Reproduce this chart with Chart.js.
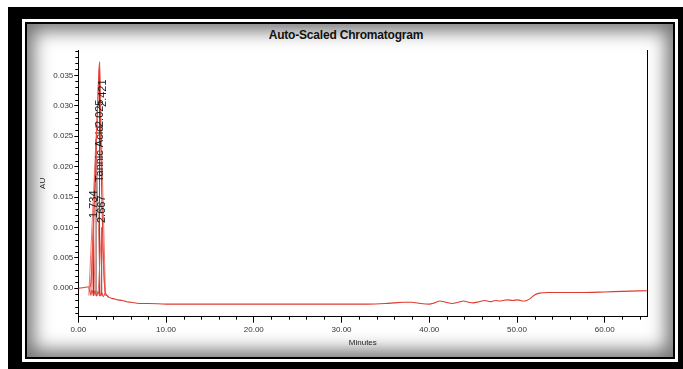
<!DOCTYPE html>
<html>
<head>
<meta charset="utf-8">
<script src="https://cdn.jsdelivr.net/npm/chart.js@4/dist/chart.umd.min.js"></script>
<style>
  html, body { margin: 0; padding: 0; background: #fff; }
  body { width: 683px; height: 369px; position: relative; overflow: hidden; font-family: 'Liberation Sans', Arial, sans-serif; }
  .frame { position: absolute; left: 8px; top: 7px; width: 675px; height: 362px; background: #000; }
  .panel {
    position: absolute; left: 25px; top: 22px; width: 646px; height: 333px;
    background: #fff; border: 2px solid #000; outline: 3px solid #fff;
    box-shadow: inset 0 0 18px 7px rgba(0,0,0,0.55);
  }
  .title { position: absolute; left: 0; width: 692px; top: 28px; text-align: center; font-weight: bold; font-size: 12px; color: #111; letter-spacing: -0.2px; }
  #chart { position: absolute; left: 0; top: 0; }
</style>
</head>
<body>
<div class="frame"></div>
<div class="panel"></div>
<div class="title">Auto-Scaled Chromatogram</div>
<canvas id="chart" width="683" height="369"></canvas>
<script>
// --- DATA ---
const traceTime = [0, 0.5, 1.0, 1.3, 1.45, 1.6, 1.734, 1.88, 2.025, 2.2, 2.421, 2.55, 2.667, 2.8, 2.95, 3.1, 3.3,
    3.5, 4.0, 4.5, 5.0, 5.5, 6.0, 7.0, 8.0, 10, 15, 20, 25, 30, 33, 35, 36, 37, 38, 39, 40, 40.6, 41.2, 41.9, 42.6,
    43.3, 43.9, 44.5, 45.0, 45.7, 46.3, 47.0, 47.6, 48.0, 48.4, 48.9, 49.5, 50.1, 50.7, 51.1, 51.5, 52.0, 52.6, 53.5, 55, 57, 60, 62, 64.85];
const traceAU = [0.0000, 0.0001, 0.0002, 0.0002, 0.0010, 0.0055, 0.0108, 0.0165, 0.0230, 0.0300, 0.0372, 0.0250, 0.0160, 0.0080, 0.0015, -0.0008, -0.0012,
    -0.0015, -0.0017, -0.0019, -0.0020, -0.0022, -0.0023, -0.0025, -0.0025, -0.0026, -0.0026, -0.0026, -0.0026, -0.0026, -0.0026, -0.0025, -0.0024, -0.0023, -0.0023, -0.0025, -0.0026, -0.0024, -0.0021, -0.0023, -0.0025,
    -0.0023, -0.0021, -0.0023, -0.0024, -0.0022, -0.0020, -0.0022, -0.0020, -0.0021, -0.0020, -0.0019, -0.0020, -0.0019, -0.0021, -0.0020, -0.0017, -0.0011, -0.0008, -0.0007, -0.0007, -0.0007, -0.0006, -0.0005, -0.0004];

// integration baseline zigzag under the peak cluster
const baseTime = [1.20, 1.40, 1.55, 1.75, 1.90, 2.10, 2.25, 2.50, 2.65, 2.85, 3.05, 3.40];
const baseAU = [0.0001, -0.0011, -0.0003, -0.0012, -0.0004, -0.0013, -0.0005, -0.0013, -0.0006, -0.0014, -0.0008, -0.0015];

// peaks: retention time, apex height, start/end of each resolved peak
const peakTimes = [1.734, 2.025, 2.421, 2.667];
const peakHeights = [0.0108, 0.0245, 0.0372, 0.0100];
const peakStart = [1.40, 1.55, 1.20, 2.25];
const peakEnd = [1.90, 2.50, 3.10, 3.05];
const peakFoot = -0.0012;

const xMajorTicks = [0, 10, 20, 30, 40, 50, 60];
const xMinorTicks = [2, 4, 6, 8, 12, 14, 16, 18, 22, 24, 26, 28, 32, 34, 36, 38, 42, 44, 46, 48, 52, 54, 56, 58, 62, 64];
const yMajorTicks = [0, 0.005, 0.010, 0.015, 0.020, 0.025, 0.030, 0.035];
const yMinorTicks = [-0.004, -0.003, -0.002, -0.001, 0.001, 0.002, 0.003, 0.004, 0.006, 0.007, 0.008, 0.009, 0.011, 0.012, 0.013, 0.014,
    0.016, 0.017, 0.018, 0.019, 0.021, 0.022, 0.023, 0.024, 0.026, 0.027, 0.028, 0.029, 0.031, 0.032, 0.033, 0.034, 0.036, 0.037, 0.038, 0.039];

// ---------- build datasets ----------
const tracePts = traceTime.map((t, i) => ({ x: t, y: traceAU[i] }));
const basePts = baseTime.map((t, i) => ({ x: t, y: baseAU[i] }));
const fanPts = [];
const dropPts = [];
peakTimes.forEach((t, i) => {
    fanPts.push({ x: peakStart[i], y: peakFoot }, { x: t, y: peakHeights[i] }, { x: peakEnd[i], y: peakFoot }, { x: t, y: null });
    dropPts.push({ x: t, y: peakFoot }, { x: t, y: peakHeights[i] }, { x: t, y: null });
});

// label spots (rotated text, start at bottom)
const peakLabelSpots = [
    { text: '1.734', t: 1.734, v: 0.01155 },
    { text: '2.667', t: 2.667, v: 0.01073 },
    { text: 'Tannic Acid', t: 2.50, v: 0.01747 },
    { text: '2.025', t: 2.50, v: 0.0265 },
    { text: '2.421', t: 2.85, v: 0.0298 }
];

const chromDecor = {
    id: 'chromDecor',
    afterDraw(chart) {
        const { ctx, chartArea: a, scales: { x, y } } = chart;
        ctx.save();
        ctx.strokeStyle = '#000';
        ctx.lineWidth = 1;
        ctx.beginPath();
        ctx.moveTo(Math.round(a.right) + 0.5, a.top);
        ctx.lineTo(Math.round(a.right) + 0.5, a.bottom);
        yMinorTicks.forEach(v => {
            const py = Math.round(y.getPixelForValue(v)) + 0.5;
            ctx.moveTo(a.left - 3, py);
            ctx.lineTo(a.left, py);
        });
        xMinorTicks.forEach(v => {
            const px = Math.round(x.getPixelForValue(v)) + 0.5;
            ctx.moveTo(px, a.bottom);
            ctx.lineTo(px, a.bottom + 3);
        });
        ctx.stroke();

        ctx.fillStyle = '#1a1a1a';
        ctx.font = "11px 'Liberation Sans', Arial, sans-serif";
        ctx.textBaseline = 'middle';
        ctx.textAlign = 'left';
        peakLabelSpots.forEach(p => {
            ctx.save();
            ctx.translate(x.getPixelForValue(p.t), y.getPixelForValue(p.v));
            ctx.rotate(-Math.PI / 2);
            ctx.fillText(p.text, 0, 0);
            ctx.restore();
        });
        ctx.restore();
    }
};

Chart.defaults.font.family = "'Liberation Sans', Arial, sans-serif";
Chart.defaults.color = '#333';

new Chart(document.getElementById('chart'), {
    type: 'line',
    data: {
        datasets: [
            { data: fanPts, borderColor: '#e8574d', borderWidth: 0.8, pointRadius: 0, tension: 0, spanGaps: false },
            { data: basePts, borderColor: '#e03a2f', borderWidth: 1, pointRadius: 0, tension: 0 },
            { data: dropPts, borderColor: '#3a1a1a', borderWidth: 0.8, pointRadius: 0, tension: 0, spanGaps: false },
            { data: tracePts, borderColor: '#e03a2f', borderWidth: 1.1, pointRadius: 0, cubicInterpolationMode: 'monotone' }
        ]
    },
    options: {
        responsive: false,
        animation: false,
        layout: { padding: { left: 37.6, top: 50, right: 35.7, bottom: 21.6 } },
        plugins: { legend: { display: false }, tooltip: { enabled: false }, title: { display: false } },
        scales: {
            x: {
                type: 'linear', min: 0, max: 64.85,
                afterBuildTicks: s => { s.ticks = xMajorTicks.map(v => ({ value: v })); },
                afterFit: s => { s.height = 30.7; },
                ticks: { font: { size: 8 }, color: '#333', padding: 2, maxRotation: 0, callback: v => v.toFixed(2) },
                grid: { display: true, drawOnChartArea: false, drawTicks: true, tickLength: 6, color: '#000' },
                border: { display: true, color: '#000', width: 1 },
                title: { display: true, text: 'Minutes', font: { size: 8 }, color: '#222', padding: 0 }
            },
            y: {
                type: 'linear', min: -0.00467, max: 0.03916,
                afterBuildTicks: s => { s.ticks = yMajorTicks.map(v => ({ value: v })); },
                afterFit: s => { s.width = 40.7; },
                ticks: { font: { size: 8 }, color: '#333', padding: 1, callback: v => v.toFixed(3) },
                grid: { display: true, drawOnChartArea: false, drawTicks: true, tickLength: 4, color: '#000' },
                border: { display: true, color: '#000', width: 1 },
                title: { display: true, text: 'AU', font: { size: 8 }, color: '#222', padding: 0 }
            }
        }
    },
    plugins: [chromDecor]
});
</script>
</body>
</html>
